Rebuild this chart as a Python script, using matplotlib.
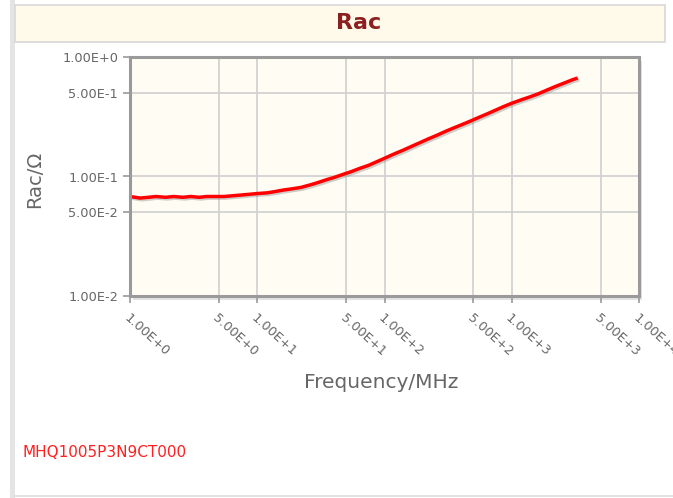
import matplotlib
matplotlib.use("Agg")
import matplotlib.pyplot as plt
import matplotlib.patheffects as pe
from matplotlib.patches import Rectangle
from matplotlib.lines import Line2D

# data
freq_mhz = [1.0, 1.2, 1.4, 1.6, 1.9, 2.2, 2.6, 3.0, 3.5, 4.0, 4.7, 5.5, 6.4, 7.5, 8.7,
            10, 12, 14, 16, 19, 22, 26, 30, 35, 40, 47, 55, 64, 75, 87,
            100, 120, 140, 160, 190, 220, 260, 300, 350, 400, 470, 550, 640, 750, 870,
            1000, 1200, 1400, 1600, 1900, 2200, 2600, 3000, 3200]
rac_ohm = [0.068, 0.066, 0.067, 0.068, 0.067, 0.068, 0.067, 0.068, 0.067, 0.068, 0.068, 0.068, 0.069, 0.070, 0.071,
           0.072, 0.073, 0.075, 0.077, 0.079, 0.081, 0.085, 0.089, 0.094, 0.098, 0.104, 0.110, 0.117, 0.124, 0.133,
           0.142, 0.155, 0.166, 0.177, 0.192, 0.206, 0.222, 0.238, 0.255, 0.270, 0.290, 0.312, 0.334, 0.360, 0.386,
           0.410, 0.440, 0.465, 0.490, 0.530, 0.566, 0.607, 0.645, 0.660]

x_ticks = [1, 5, 10, 50, 100, 500, 1000, 5000, 10000]
x_labels = ["1.00E+0", "5.00E+0", "1.00E+1", "5.00E+1", "1.00E+2",
            "5.00E+2", "1.00E+3", "5.00E+3", "1.00E+4"]
y_ticks = [0.01, 0.05, 0.1, 0.5, 1.0]
y_labels = ["1.00E-2", "5.00E-2", "1.00E-1", "5.00E-1", "1.00E+0"]

W, H = 673, 498
fig = plt.figure(figsize=(W / 100, H / 100), dpi=100, facecolor="white")

# page decoration: left strip, title band, bottom border
fig.patches.append(Rectangle((10 / W, 0), 5 / W, 1, transform=fig.transFigure,
                             facecolor="#e4e4e4", edgecolor="none"))
fig.patches.append(Rectangle((15 / W, 1 - 42 / H), 650 / W, 37 / H, transform=fig.transFigure,
                             facecolor="#fffaea", edgecolor="#d8d8d8", linewidth=1.2))
fig.lines.append(Line2D([15 / W, 1], [1 - 496 / H, 1 - 496 / H], transform=fig.transFigure,
                        color="#dddddd", linewidth=1.2))
fig.text(359 / W, 1 - 23 / H, "Rac", ha="center", va="center", fontsize=16,
         fontweight="bold", color="#8b2020")

left, right, top, bottom = 130, 639, 57, 296
# frame shadow, kept under the axes
shadow = Rectangle(((left + 3) / W, 1 - (bottom + 4) / H), (right - left) / W,
                   (bottom - top) / H, transform=fig.transFigure,
                   facecolor="#e2e2e2", edgecolor="none")
shadow.set_zorder(-1)
fig.patches.append(shadow)
ax = fig.add_axes([left / W, 1 - bottom / H, (right - left) / W, (bottom - top) / H])
ax.set_zorder(1)
ax.set_facecolor("#fffcf3")

ax.plot(freq_mhz, rac_ohm, color="#ff0000", linewidth=2.5,
        path_effects=[pe.SimpleLineShadow(offset=(1.2, -1.2), shadow_color="#888888", alpha=0.4),
                      pe.Normal()])

ax.set_xscale("log")
ax.set_yscale("log")
ax.set_xlim(1, 10000)
ax.set_ylim(0.01, 1.0)
ax.minorticks_off()
ax.set_xticks(x_ticks)
ax.set_xticklabels(x_labels, rotation=-42, ha="left", va="top", rotation_mode="anchor")
ax.set_yticks(y_ticks)
ax.set_yticklabels(y_labels)
ax.grid(True, color="#d2d2d2", linewidth=1.3)
ax.set_axisbelow(True)
for s in ax.spines.values():
    s.set_color("#9a9a9a")
    s.set_linewidth(2.2)
ax.tick_params(axis="both", direction="out", length=5, width=1.2, color="#999999",
               labelcolor="#666666", labelsize=9.3)
ax.tick_params(axis="x", pad=6)

fig.text(35 / W, 1 - 179 / H, "Rac/Ω", rotation=90, ha="center", va="center",
         fontsize=14, color="#666666")
fig.text(381 / W, 1 - 382 / H, "Frequency/MHz", ha="center", va="center",
         fontsize=14.5, color="#666666")
fig.text(22 / W, 1 - 452 / H, "MHQ1005P3N9CT000", ha="left", va="center",
         fontsize=11, color="#ff2020")

fig.savefig("out.png", dpi=100, facecolor="white")
